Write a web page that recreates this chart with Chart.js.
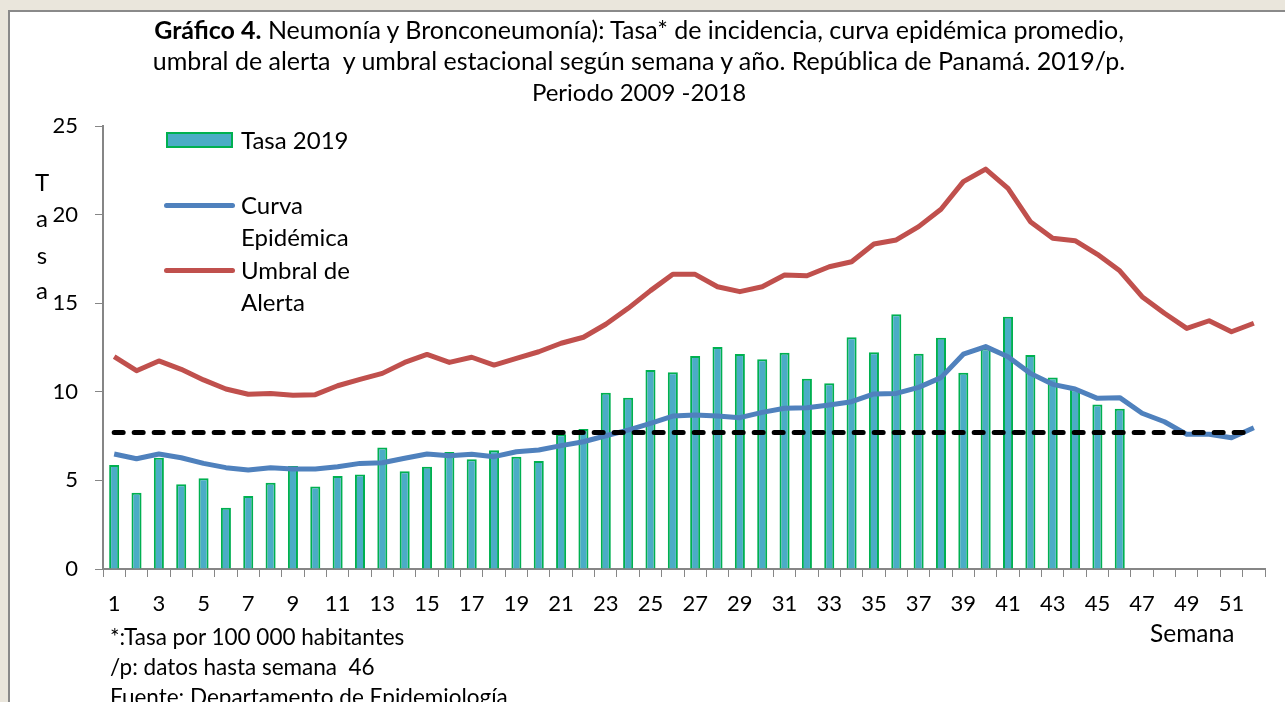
<!DOCTYPE html>
<html>
<head>
<meta charset="utf-8">
<script src="https://cdn.jsdelivr.net/npm/chart.js@4.4.1/dist/chart.umd.min.js"></script>
<style>
  html, body { margin:0; padding:0; }
  body { width:1285px; height:702px; overflow:hidden; background:#EAE6DC; position:relative; font-family: Lato, "Open Sans", sans-serif; color:#000; }
  #panel { position:absolute; left:8px; top:10px; width:1300px; height:720px; background:#fff; border-left:2px solid #8a8a8a; border-top:2px solid #8a8a8a; }
  #c { position:absolute; left:0; top:0; }
  #title { position:absolute; left:0; top:14px; width:1278px; text-align:center; font-size:25px; line-height:31px; }
  #title .l3 { font-size:24px; }
  .ylet { position:absolute; left:30px; width:24px; text-align:center; font-size:24px; line-height:24px; }
  .leg { position:absolute; font-size:24px; line-height:32px; white-space:nowrap; }
  .foot { position:absolute; font-size:22.5px; line-height:30px; white-space:nowrap; }
</style>
</head>
<body>
<div id="panel"></div>
<canvas id="c" width="1285" height="702"></canvas>
<div id="title"><b>Gráfico 4.</b> Neumonía y Bronconeumonía): Tasa* de incidencia, curva epidémica promedio,<br>umbral de alerta&nbsp; y umbral estacional según semana y año. República de Panamá. 2019/p.<br><span class="l3">Periodo 2009 -2018</span></div>
<div class="ylet" style="top:170px">T</div>
<div class="ylet" style="top:206px">a</div>
<div class="ylet" style="top:243px">s</div>
<div class="ylet" style="top:278px">a</div>

<div style="position:absolute;left:166px;top:132px;width:63px;height:12px;background:#4BACC6;border:2px solid #00B050;"></div>
<div class="leg" style="left:241px;top:124px">Tasa 2019</div>
<div style="position:absolute;left:164px;top:203px;width:71px;height:5px;background:#4F81BD;border-radius:3px;"></div>
<div class="leg" style="left:241px;top:189px">Curva<br>Epidémica</div>
<div style="position:absolute;left:164px;top:268px;width:71px;height:5px;background:#C0504D;border-radius:3px;"></div>
<div class="leg" style="left:241px;top:254px">Umbral de<br>Alerta</div>

<div class="foot" style="left:1150px;top:618px;font-size:24.5px">Semana</div>
<div class="foot" style="left:110px;top:622px">*:Tasa por 100 000 habitantes</div>
<div class="foot" style="left:110px;top:652px">/p: datos hasta semana&nbsp; 46</div>
<div class="foot" style="left:110px;top:682px">Fuente: Departamento de Epidemiología</div>

<script>
const semanas = ['1','2','3','4','5','6','7','8','9','10','11','12','13','14','15','16','17','18','19','20','21','22','23','24','25','26','27','28','29','30','31','32','33','34','35','36','37','38','39','40','41','42','43','44','45','46','47','48','49','50','51','52'];

const tasa2019 = [5.87, 4.31, 6.28, 4.78, 5.12, 3.46, 4.12, 4.87, 5.81, 4.65, 5.25, 5.34, 6.85, 5.51, 5.77, 6.60, 6.19, 6.70, 6.34, 6.09, 7.60, 7.90, 9.95, 9.67, 11.23, 11.10, 12.02, 12.53, 12.13, 11.83, 12.21, 10.74, 10.48, 13.08, 12.23, 14.37, 12.15, 13.05, 11.08, 12.45, 14.24, 12.08, 10.80, 10.14, 9.29, 9.05];

const curvaEpidemica = [6.49, 6.22, 6.49, 6.28, 5.96, 5.72, 5.59, 5.72, 5.64, 5.64, 5.77, 5.96, 6.00, 6.25, 6.49, 6.39, 6.47, 6.34, 6.62, 6.72, 6.96, 7.18, 7.52, 7.84, 8.22, 8.63, 8.69, 8.63, 8.54, 8.84, 9.07, 9.10, 9.26, 9.44, 9.88, 9.91, 10.25, 10.80, 12.12, 12.55, 11.98, 11.04, 10.42, 10.16, 9.63, 9.67, 8.79, 8.31, 7.60, 7.60, 7.41, 7.97];

const umbralAlerta = [11.98, 11.19, 11.74, 11.27, 10.67, 10.16, 9.86, 9.91, 9.80, 9.84, 10.34, 10.70, 11.04, 11.66, 12.11, 11.66, 11.95, 11.51, 11.89, 12.26, 12.74, 13.08, 13.81, 14.71, 15.71, 16.63, 16.63, 15.93, 15.65, 15.93, 16.59, 16.55, 17.06, 17.34, 18.34, 18.57, 19.32, 20.30, 21.86, 22.57, 21.48, 19.60, 18.66, 18.53, 17.76, 16.83, 15.37, 14.43, 13.58, 14.01, 13.39, 13.87];

const umbralEstacional = [7.7, 7.7, 7.7, 7.7, 7.7, 7.7, 7.7, 7.7, 7.7, 7.7, 7.7, 7.7, 7.7, 7.7, 7.7, 7.7, 7.7, 7.7, 7.7, 7.7, 7.7, 7.7, 7.7, 7.7, 7.7, 7.7, 7.7, 7.7, 7.7, 7.7, 7.7, 7.7, 7.7, 7.7, 7.7, 7.7, 7.7, 7.7, 7.7, 7.7, 7.7, 7.7, 7.7, 7.7, 7.7, 7.7, 7.7, 7.7, 7.7, 7.7, 7.7, 7.7];

const yTicks = [0, 5, 10, 15, 20, 25];

const FONT = 'Lato, "Open Sans", sans-serif';
const AXIS = '#868686';

new Chart(document.getElementById('c'), {
  type: 'bar',
  data: {
    labels: semanas,
    datasets: [
      { type:'line', label:'Umbral estacional', data: umbralEstacional, borderColor:'#000', borderWidth:5, borderDash:[9,11], borderCapStyle:'round', pointRadius:0, tension:0, fill:false, order:0 },
      { type:'line', label:'Umbral de Alerta', data: umbralAlerta, borderColor:'#C0504D', borderWidth:5, pointRadius:0, tension:0, fill:false, order:1, borderJoinStyle:'round' },
      { type:'line', label:'Curva Epidémica', data: curvaEpidemica, borderColor:'#4F81BD', borderWidth:5, pointRadius:0, tension:0, fill:false, order:2, borderJoinStyle:'round' },
      { type:'bar', label:'Tasa 2019', data: tasa2019, backgroundColor:'#4BACC6', borderColor:'#00B050', borderWidth:2, barPercentage:0.45, categoryPercentage:1.0, order:3 }
    ]
  },
  options: {
    responsive:false,
    animation:false,
    devicePixelRatio:1,
    layout:{ padding:{ left:20, top:126, right:20, bottom:83 } },
    plugins:{ legend:{display:false}, title:{display:false}, tooltip:{enabled:false} },
    scales:{
      x:{
        offset:true,
        grid:{ offset:true, drawOnChartArea:false, drawTicks:true, tickLength:8, color:AXIS, lineWidth:1 },
        border:{ color:AXIS, width:2 },
        ticks:{ autoSkip:false, maxRotation:0, minRotation:0, padding:14, color:'#000', font:{ family:FONT, size:22 },
          callback:function(v, i){ return i % 2 === 0 ? semanas[i] : ''; } },
        afterFit:function(s){ s.height = 50; }
      },
      y:{
        min:0, max:25,
        afterBuildTicks:function(s){ s.ticks = yTicks.map(v => ({value:v})); },
        grid:{ drawOnChartArea:false, drawTicks:true, tickLength:8, color:AXIS, lineWidth:1 },
        border:{ color:AXIS, width:2 },
        ticks:{ padding:17, color:'#000', font:{ family:FONT, size:22 } },
        afterFit:function(s){ s.width = 83; }
      }
    }
  }
});
</script>
</body>
</html>
